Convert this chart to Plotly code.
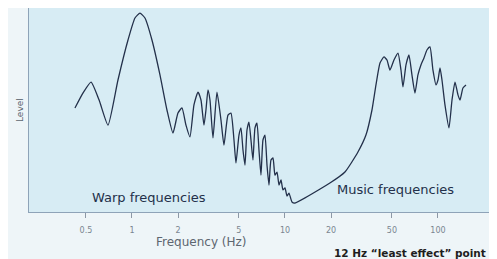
import plotly.graph_objects as go

# Frequency (Hz) and relative level
freq_hz = [0.424, 0.478, 0.540, 0.609, 0.697, 0.810, 0.942, 1.046, 1.128, 1.216,
           1.351, 1.524, 1.693, 1.853, 1.998, 2.122, 2.254, 2.393, 2.542, 2.699,
           2.825, 2.955, 3.045, 3.139, 3.235, 3.384, 3.593, 3.817, 3.993, 4.242,
           4.436, 4.642, 4.783, 5.005, 5.158, 5.315, 5.478, 5.645, 5.817, 5.995,
           6.178, 6.367, 6.561, 6.761, 6.968, 7.180, 7.40, 7.63, 7.86, 8.10,
           8.35, 8.60, 8.87, 9.14, 9.42, 9.70, 10.0, 10.31, 10.62, 11.11,
           11.62, 19.66, 24.66, 29.99, 33.82, 37.03, 39.33, 41.78, 44.36, 46.42,
           48.55, 51.56, 54.78, 57.30, 59.05, 61.78, 64.62, 67.58, 70.73, 73.98,
           77.39, 80.98, 84.7, 88.64, 92.7, 97.0, 100.0, 103.1, 106.2, 111.1,
           118.0, 123.5, 129.2, 135.1, 139.3, 145.6, 152.4]
level = [51.0, 58.3, 63.7, 55.0, 42.6, 64.7, 84.3, 95.1, 97.5, 95.1,
         84.3, 67.2, 50.0, 38.7, 48.5, 51.0, 42.6, 36.8, 52.5, 58.8,
         54.9, 42.6, 50.0, 59.8, 54.9, 36.3, 58.8, 45.1, 32.8, 47.5,
         48.5, 35.3, 24.0, 37.7, 41.2, 30.4, 23.0, 40.2, 44.1, 35.3,
         25.5, 41.2, 43.6, 30.4, 18.1, 35.3, 37.7, 23.0, 13.2, 25.5,
         26.5, 18.1, 19.6, 13.2, 15.7, 10.8, 11.8, 7.8, 9.3, 4.9,
         4.4, 14.2, 19.6, 29.4, 37.7, 50.0, 62.3, 73.0, 76.0, 74.5,
         69.6, 74.5, 77.9, 69.6, 61.3, 72.1, 77.0, 67.2, 58.3, 67.2,
         72.1, 75.5, 79.4, 80.9, 69.6, 62.3, 64.7, 70.6, 64.7, 52.5,
         41.2, 54.9, 63.7, 57.4, 54.9, 60.8, 62.3]

tick_vals = [0.5, 1, 2, 5, 10, 20, 50, 100]
tick_text = ["0.5", "1", "2", "5", "10", "20", "50", "100"]

FONT = "DejaVu Sans, Verdana, sans-serif"
INK = "#23304a"

fig = go.Figure()
fig.add_trace(go.Scatter(
    x=freq_hz, y=level, mode="lines",
    line=dict(color=INK, width=1.3, shape="spline", smoothing=0.5),
    hoverinfo="skip", showlegend=False,
))

fig.update_layout(
    width=489, height=251,
    margin=dict(l=21, r=7, t=0, b=47),
    paper_bgcolor="#eef5f8",
    plot_bgcolor="#d7ecf4",
    font=dict(family=FONT, size=9, color="#6f7a85"),
    xaxis=dict(
        type="log", range=[-0.673, 2.340],
        tickvals=tick_vals, ticktext=tick_text,
        ticks="outside", ticklen=5, tickcolor="#8c98a6", tickwidth=1,
        ticklabelstandoff=5,
        showgrid=False, zeroline=False,
        showline=True, linecolor="#8ea3b8", linewidth=1, mirror=True,
        tickfont=dict(size=8, color="#7a8590"),
    ),
    yaxis=dict(
        range=[0, 100], showticklabels=False, ticks="",
        showgrid=False, zeroline=False,
        showline=True, linecolor="#8ea3b8", linewidth=1, mirror=True,
    ),
    annotations=[
        dict(text="Frequency (Hz)", xref="paper", yref="paper", x=0.375, y=-0.147,
             xanchor="center", yanchor="middle",
             showarrow=False, font=dict(size=12, color="#5d6670")),
        dict(text="Level", xref="paper", yref="paper", x=-0.0195, y=0.5, textangle=-90,
             xanchor="center", yanchor="middle",
             showarrow=False, font=dict(size=9, color="#5d6670")),
        dict(text="Warp frequencies", xref="paper", yref="paper", x=0.260, y=0.0735,
             xanchor="center", yanchor="middle",
             showarrow=False, font=dict(size=13, color=INK)),
        dict(text="Music frequencies", xref="paper", yref="paper", x=0.794, y=0.108,
             xanchor="center", yanchor="middle",
             showarrow=False, font=dict(size=13, color=INK)),
        dict(text="<b>12 Hz \u201cleast effect\u201d point</b>", xref="paper", yref="paper",
             x=0.657, y=-0.201, xanchor="left", yanchor="middle", showarrow=False,
             font=dict(size=10.5, color="#1e1e1e")),
    ],
)

fig.write_html("out.html")
